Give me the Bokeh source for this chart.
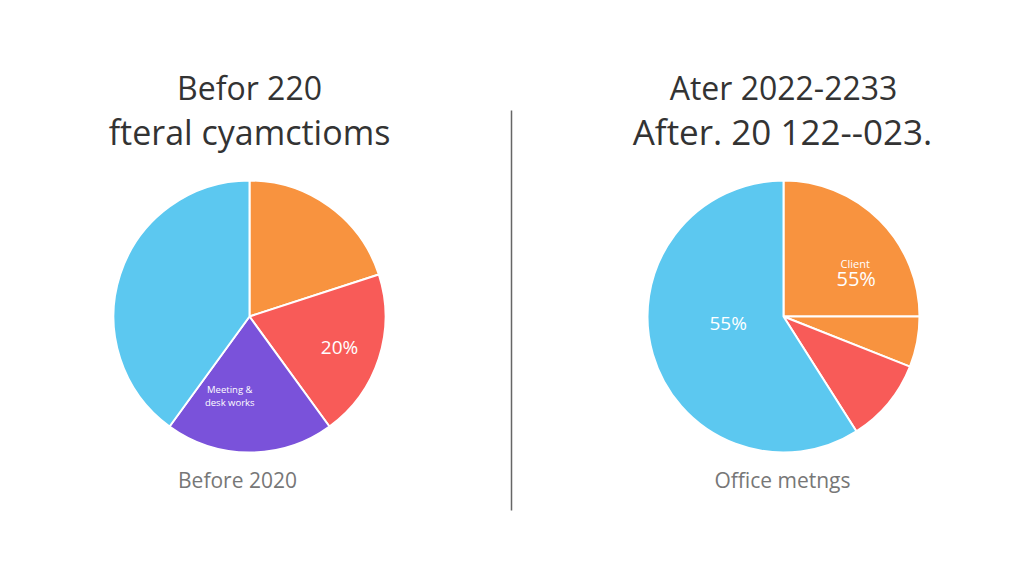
import numpy as np
from bokeh.plotting import figure
from bokeh.models import Range1d
from bokeh.core.properties import value
from bokeh.embed import file_html
from bokeh.resources import INLINE

# ---- data ----
left_categories = ["Client", "Office", "Meeting & desk works", "Remote"]
left_values = [20, 20, 20, 40]
left_colors = ["#F8933F", "#F85B58", "#7A52DA", "#5CC8F0"]

right_categories = ["Client", "Travel", "Office", "Remote"]
right_values = [25, 6, 10, 59]
right_colors = ["#F8933F", "#F8933F", "#F85B58", "#5CC8F0"]

left_title = ["Befor 220", "fteral cyamctioms"]
right_title = ["Ater 2022-2233", "After. 20 122--023."]
left_caption = "Before 2020"
right_caption = "Office metngs"

W, H = 1008, 569
p = figure(width=W, height=H, output_backend="svg", toolbar_location=None,
           x_range=Range1d(0, W), y_range=Range1d(0, H), min_border=0)
p.axis.visible = False
p.grid.visible = False
p.outline_line_color = None
p.background_fill_color = "white"

R = 136
font = value("Open Sans")


def pie(cx, cy, vals, colors):
    vals = np.array(vals, dtype=float)
    frac = vals / vals.sum()
    cum = np.concatenate([[0], np.cumsum(frac)])
    starts = np.pi / 2 - cum[:-1] * 2 * np.pi
    ends = np.pi / 2 - cum[1:] * 2 * np.pi
    p.wedge(x=cx, y=cy, radius=R, start_angle=starts, end_angle=ends,
            direction="clock", fill_color=colors, line_color="white", line_width=2)
    return starts, ends


lcx, lcy = 249, 253
rcx, rcy = 783, 253
pie(lcx, lcy, left_values, left_colors)
pie(rcx, rcy, right_values, right_colors)


def at(cx, cy, ang_deg, rf):
    a = np.deg2rad(ang_deg)
    return cx + rf * R * np.cos(a), cy + rf * R * np.sin(a)


def txt(x, y, s, size, color="white", align="center", style="normal"):
    p.text(x=[x], y=[y], text=[s], text_font=font, text_font_size=value(size),
           text_color=color, text_align=align, text_baseline="middle",
           text_font_style=style)


# in-slice labels
x, y = at(lcx, lcy, -19, 0.70)
txt(x, y, "20%", "19px")
x, y = at(lcx, lcy, -104, 0.60)
txt(x, y + 6, "Meeting &", "9.5px")
txt(x, y - 7, "desk works", "9.5px")

x, y = at(rcx, rcy, 32, 0.63)
txt(x - 1, y + 8, "Client", "11px")
txt(x, y - 7, "55%", "20px")
x, y = at(rcx, rcy, 187, 0.41)
txt(x, y, "55%", "19px")

# titles
txt(249, 482, left_title[0], "32px", "#333333")
txt(249, 438, left_title[1], "34px", "#333333")
txt(783, 482, right_title[0], "32px", "#333333")
txt(782, 438, right_title[1], "35px", "#333333")

# captions
txt(237, 90, left_caption, "21px", "#777777")
txt(782, 90, right_caption, "21px", "#777777")

# divider
p.segment(x0=[511], y0=[59], x1=[511], y1=[459], line_color="#666666", line_width=1.5)

open("out.html", "w").write(file_html(p, INLINE))
